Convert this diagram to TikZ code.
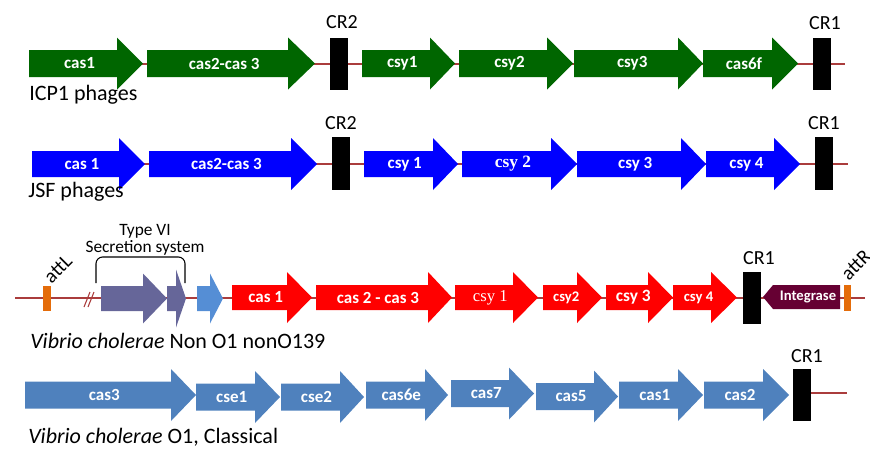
\documentclass[tikz,border=0pt]{standalone}
\usepackage{fontspec}
\setmainfont{Carlito}
\newfontfamily\timesfont{Liberation Serif}
\usepackage{graphicx}
\usepackage{xcolor}
\usepackage{tikz}
\usetikzlibrary{backgrounds}
\definecolor{icpgreen}{RGB}{0,102,0}
\definecolor{jsfblue}{RGB}{0,0,255}
\definecolor{vcred}{RGB}{255,0,0}
\definecolor{steel}{RGB}{79,129,189}
\definecolor{slate}{RGB}{102,102,153}
\definecolor{sky}{RGB}{85,142,213}
\definecolor{intmaroon}{RGB}{102,0,51}
\definecolor{attorange}{RGB}{228,108,10}
\definecolor{backbone}{RGB}{170,60,60}
\tikzset{
    genetext/.style={text=white, font=\bfseries\fontsize{12.75}{15}\selectfont, inner sep=0pt},
    crbox/.style={rectangle, fill=black, minimum width=13.5pt, minimum height=39pt, inner sep=0pt},
    crtext/.style={font=\fontsize{15}{18}\selectfont, anchor=base, inner sep=0pt},
    attbox/.style={rectangle, fill=attorange, minimum width=6pt, minimum height=19pt, inner sep=0pt},
    atttext/.style={font=\fontsize{15}{17}\selectfont, inner sep=0pt},
    rowtitle/.style={font=\fontsize{16.5}{20}\selectfont, anchor=base west, inner sep=0pt},
    spine/.style={draw=backbone, line width=0.8pt}
}
% gene arrow: [fill] name, tail x, head x, tip x, centre y, label
\newcommand{\genebody}{13.5}
\newcommand{\genehead}{26}
\newcommand{\gene}[7][fill=icpgreen]{%
    \fill[#1] (#3,#6-\genebody) -- (#4,#6-\genebody) -- (#4,#6-\genehead) -- (#5,#6)
        -- (#4,#6+\genehead) -- (#4,#6+\genebody) -- (#3,#6+\genebody) -- cycle;
    \node[genetext] (#2) at ({0.5*#3+0.25*#4+0.25*#5},#6) {#7};
}

\begin{document}
\begin{tikzpicture}[x=0.75pt, y=-0.75pt]
    \useasboundingbox (0,0) rectangle (870,450);

    % ICP1 phages
    \gene{icpcasA}{29}{117}{143}{63.5}{cas1}
    \gene{icpcasB}{147}{288}{315}{63.5}{cas2-cas 3}
    \gene{icpcsyA}{362}{430}{455}{63.5}{csy1}
    \gene{icpcsyB}{459}{547}{573}{63.5}{csy2}
    \gene{icpcsyC}{574}{678}{703}{63.5}{csy3}
    \gene{icpcasF}{703}{772}{798}{63.5}{cas6f}
    \node[crbox] (icpcrB) at (338.5,63.5) {};
    \node[crbox] (icpcrA) at (822,63.5) {};
    \node[crtext] (icpcrBt) at (342,28) {CR2};
    \node[crtext] (icpcrAt) at (825,29) {CR1};
    \coordinate (icpend) at (845,64);
    \node[rowtitle] (icptitle) at (29,100) {ICP1 phages};

    % JSF phages
    \renewcommand{\genebody}{13}
    \gene[fill=jsfblue]{jsfcasA}{32}{119}{145}{164}{cas 1}
    \gene[fill=jsfblue]{jsfcasB}{149}{291}{317}{164}{cas2-cas 3}
    \gene[fill=jsfblue]{jsfcsyA}{364}{433}{458}{164}{csy 1}
    \gene[fill=jsfblue]{jsfcsyB}{462}{551}{577}{164}{\timesfont\fontsize{13}{15}\selectfont csy 2}
    \gene[fill=jsfblue]{jsfcsyC}{577}{681}{706}{164}{csy 3}
    \gene[fill=jsfblue]{jsfcsyD}{706}{774}{800}{164}{csy 4}
    \node[crbox, minimum height=39.75pt] (jsfcrB) at (341,163.5) {};
    \node[crbox, minimum height=39.75pt] (jsfcrA) at (823.5,163.5) {};
    \node[crtext] (jsfcrBt) at (341,129) {CR2};
    \node[crtext] (jsfcrAt) at (824,129) {CR1};
    \coordinate (jsfend) at (848,164);
    \node[rowtitle] (jsftitle) at (28,197) {JSF phages};

    % Vibrio cholerae non O1 non O139
    \coordinate (ncstart) at (15,298);
    \coordinate (ncend) at (865,298);
    \node[attbox] (attL) at (47,298.5) {};
    \node[atttext] (attLt) at (58,269) {\rotatebox{45}{attL}};
    \renewcommand{\genebody}{12.5}
    \renewcommand{\genehead}{25}
    \gene[fill=slate]{tsixA}{101}{143}{167}{298.5}{}
    \renewcommand{\genehead}{29}
    \gene[fill=slate]{tsixB}{167}{176}{186}{298.5}{}
    \renewcommand{\genehead}{25}
    \gene[fill=sky]{skyA}{197}{210}{223}{298.5}{}
    \coordinate (tsixL) at (96,283);
    \coordinate (tsixT) at (140,257);
    \coordinate (tsixR) at (185,283);
    \draw[line width=0.8pt, rounded corners=5pt] (tsixL) |- (tsixT) -| (tsixR);
    \node[font=\fontsize{13}{12.75}\selectfont, align=center, anchor=south, inner sep=0pt] (tsixt) at (145,256) {Type VI\\Secretion system};
    \renewcommand{\genehead}{25.5}
    \gene[fill=vcred]{nccasA}{232}{287}{312}{297.5}{cas 1}
    \gene[fill=vcred]{nccasB}{316}{428}{452}{297.5}{cas 2 - cas 3}
    \gene[fill=vcred]{nccsyA}{455}{513}{538}{297.5}{\timesfont\mdseries\fontsize{12.5}{15}\selectfont csy 1}
    \gene[fill=vcred]{nccsyB}{543}{577}{602}{297.5}{\fontsize{11}{13}\selectfont csy2}
    \gene[fill=vcred]{nccsyC}{606}{648}{673}{297.5}{\fontsize{13}{15}\selectfont csy 3}
    \gene[fill=vcred]{nccsyD}{673}{711}{737}{297.5}{\fontsize{11}{13}\selectfont csy 4}
    \node[crbox] (nccrA) at (752,297.5) {};
    \node[crtext] (nccrAt) at (759,264) {CR1};
    \fill[intmaroon] (763,297) -- (773,285) -- (840,285) -- (840,309) -- (773,309) -- cycle;
    \node[genetext, font=\bfseries\fontsize{11}{13}\selectfont] (intg) at (808,297) {Integrase};
    \node[attbox, minimum width=5.25pt, minimum height=19.5pt] (attR) at (847.5,298) {};
    \node[atttext] (attRt) at (856,265) {\rotatebox{45}{attR}};
    \draw[spine] (84,307) -- (90,292);
    \draw[spine] (88,307) -- (94,292);
    \node[rowtitle] (nctitle) at (30,348) {\textit{Vibrio cholerae} Non O1 nonO139};

    % Vibrio cholerae O1 classical
    \renewcommand{\genebody}{13.5}
    \renewcommand{\genehead}{26}
    \gene[fill=steel]{clcasC}{25}{171}{196}{395}{cas3}
    \gene[fill=steel]{clcseA}{196}{255}{280}{397}{cse1}
    \gene[fill=steel]{clcseB}{281}{340}{364}{397}{cse2}
    \gene[fill=steel]{clcasF}{366}{425}{448}{395}{cas6e}
    \gene[fill=steel]{clcasG}{451}{509}{534}{393.5}{cas7}
    \gene[fill=steel]{clcasE}{536}{594}{618}{396.5}{cas5}
    \gene[fill=steel]{clcasA}{619}{678}{703}{395}{cas1}
    \gene[fill=steel]{clcasB}{704}{763}{789}{395}{cas2}
    \node[crbox] (clcrA) at (802,395) {};
    \node[crtext] (clcrAt) at (807,362) {CR1};
    \coordinate (clend) at (847,393);
    \node[rowtitle] (cltitle) at (28,443) {\textit{Vibrio cholerae} O1, Classical};

    % Backbones
    \begin{scope}[on background layer]
        \draw[spine] (icpcasA.center |- icpend) -- (icpend);
        \draw[spine] (jsfcasA.center) -- (jsfend);
        \draw[spine] (ncstart) -- (ncend);
        \draw[spine] (clcrA.center |- clend) -- (clend);
    \end{scope}
\end{tikzpicture}
\end{document}
